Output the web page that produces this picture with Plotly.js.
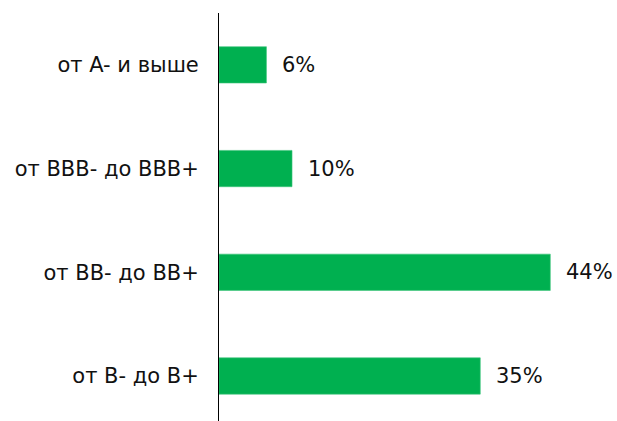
<!DOCTYPE html>
<html>
<head>
<meta charset="utf-8">
<script src="https://cdn.plot.ly/plotly-3.0.1.min.js"></script>
<style>html,body{margin:0;padding:0;background:#fff;}#chart{width:617px;height:421px;}</style>
</head>
<body>
<div id="chart"></div>
<script>
// categories listed bottom to top
const categories = ['от B- до B+', 'от BB- до BB+', 'от BBB- до BBB+', 'от A- и выше'];
const values = [34.7, 44.0, 9.7, 6.3];
const labels = ['35%', '44%', '10%', '6%'];

const font = {family: 'DejaVu Sans, Verdana, sans-serif', size: 21, color: '#111111'};

const trace = {
  type: 'bar',
  orientation: 'h',
  y: categories,
  x: values,
  marker: {color: '#00B050', line: {color: '#3cc47a', width: 0.6}},
  hoverinfo: 'none'
};

const annotations = categories.map((c, i) => ({
  x: values[i], y: c, xref: 'x', yref: 'y',
  text: labels[i], showarrow: false,
  xanchor: 'left', yanchor: 'middle', xshift: 14,
  font: font
}));

const layout = {
  width: 617, height: 421,
  margin: {l: 219, r: 0, t: 13, b: 0, pad: 0},
  paper_bgcolor: '#ffffff', plot_bgcolor: '#ffffff',
  showlegend: false,
  bargap: 0.65,
  font: font,
  xaxis: {range: [0, 52.86], showgrid: false, zeroline: false, showline: false,
          showticklabels: false, ticks: '', fixedrange: true},
  yaxis: {type: 'category', categoryorder: 'array', categoryarray: categories,
          range: [-0.434, 3.5], showline: true, linecolor: '#000000', linewidth: 1,
          showgrid: false, zeroline: false, ticks: '', ticklabelstandoff: 15,
          tickfont: font, fixedrange: true},
  annotations: annotations
};

Plotly.newPlot('chart', [trace], layout, {displayModeBar: false, staticPlot: true});
</script>
</body>
</html>
